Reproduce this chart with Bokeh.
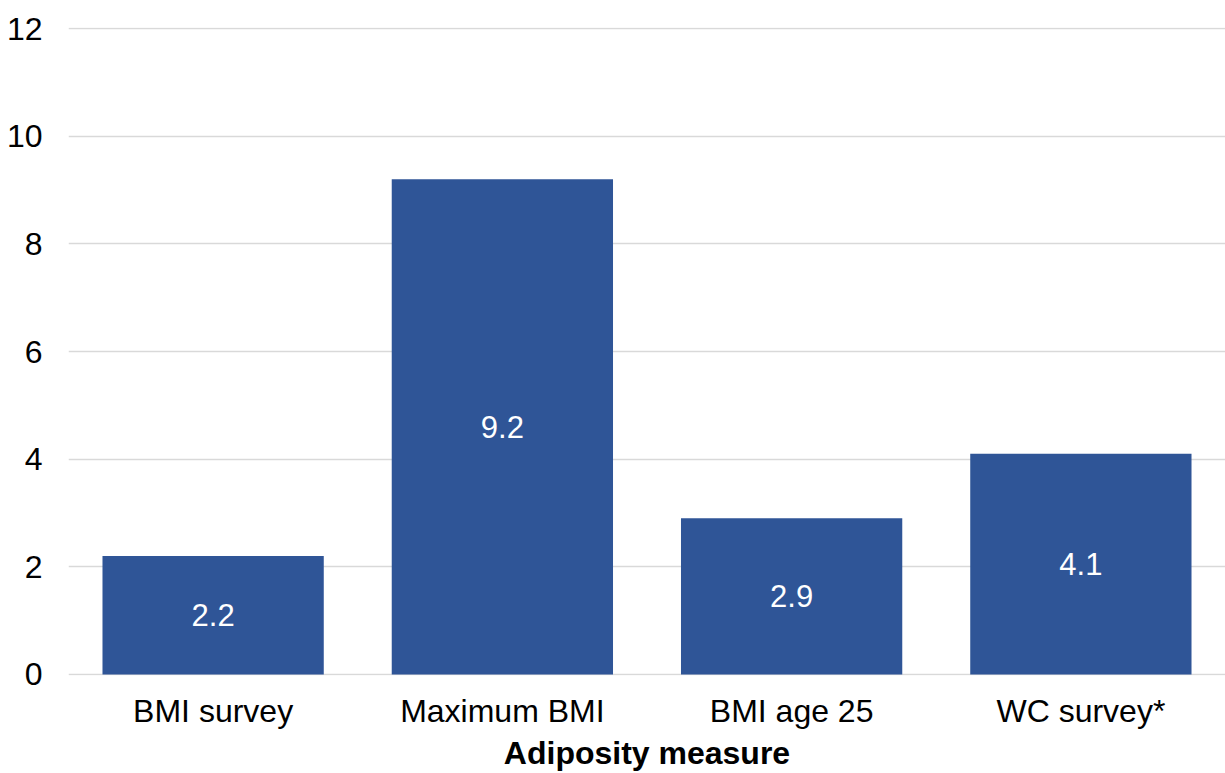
from bokeh.plotting import figure
from bokeh.models import ColumnDataSource, FactorRange, Range1d, FixedTicker
from bokeh.core.properties import value
from bokeh.embed import file_html
from bokeh.resources import INLINE

categories = ["BMI survey", "Maximum BMI", "BMI age 25", "WC survey*"]
values = [2.2, 9.2, 2.9, 4.1]
labels = ["2.2", "9.2", "2.9", "4.1"]
y_ticks = [0, 2, 4, 6, 8, 10, 12]

FONT = "Liberation Sans"
BAR = "#2F5597"

src = ColumnDataSource(dict(
    cat=categories,
    val=values,
    mid=[v / 2 for v in values],
    lab=labels,
))

p = figure(
    width=1225, height=773,
    x_range=FactorRange(factors=categories, range_padding=0),
    y_range=Range1d(-0.02, 12.02),
    output_backend="svg", toolbar_location=None,
    min_border_left=68, min_border_right=0, min_border_top=27, min_border_bottom=91,
)

p.vbar(x="cat", top="val", bottom=0, width=0.765, source=src,
       fill_color=BAR, line_color=None)
p.text(x="cat", y="mid", text="lab", source=src,
       text_align="center", text_baseline="middle",
       text_color="white", text_font_size="31px", text_font=value(FONT))

p.outline_line_color = None
p.background_fill_color = "white"
p.border_fill_color = "white"

p.xgrid.grid_line_color = None
p.ygrid.grid_line_color = "#D9D9D9"
p.ygrid.grid_line_width = 1.5

p.yaxis.ticker = FixedTicker(ticks=y_ticks)
for ax in (p.xaxis[0], p.yaxis[0]):
    ax.axis_line_color = None
    ax.major_tick_line_color = None
    ax.minor_tick_line_color = None
    ax.major_label_text_font = FONT
    ax.major_label_text_font_size = "32px"
    ax.major_label_text_color = "#000000"

p.yaxis.major_label_standoff = 20
p.xaxis.major_label_standoff = 11
p.xaxis.axis_label = "Adiposity measure"
p.xaxis.axis_label_text_font = FONT
p.xaxis.axis_label_text_font_size = "32px"
p.xaxis.axis_label_text_font_style = "bold"
p.xaxis.axis_label_text_color = "#000000"
p.xaxis.axis_label_standoff = 3

open("out.html", "w").write(file_html(p, INLINE))
